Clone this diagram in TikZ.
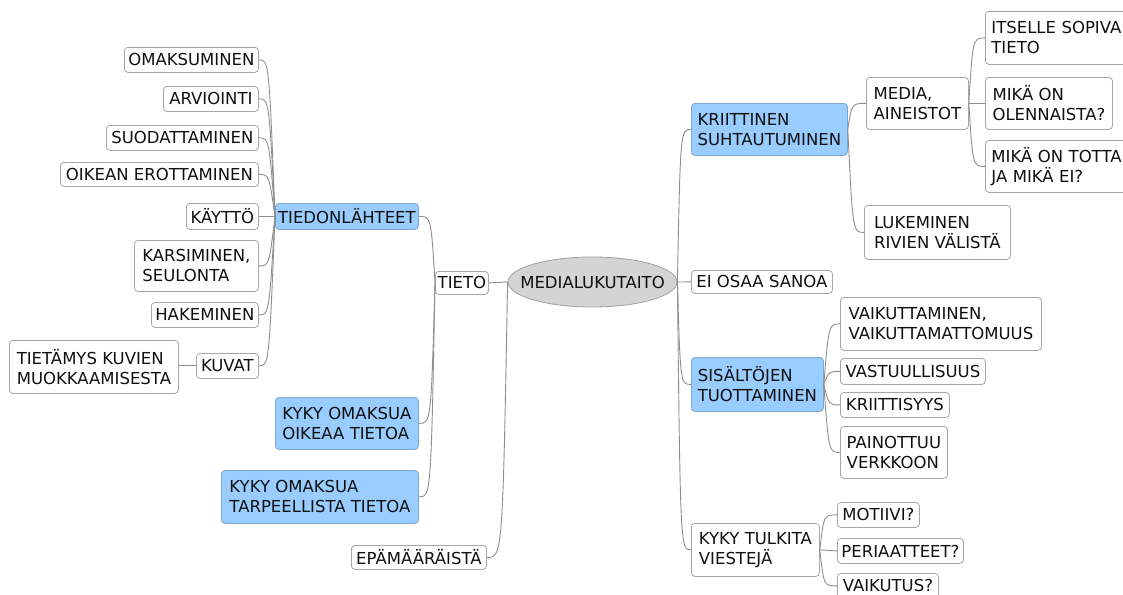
\documentclass[tikz,border=0pt]{standalone}
\usepackage{fontspec}
\setmainfont{DejaVu Sans}
\usetikzlibrary{shapes.geometric}
\definecolor{boxline}{HTML}{A6A6A6}
\definecolor{edgec}{HTML}{8E8E8E}
\definecolor{bluefill}{HTML}{99CCFF}
\definecolor{blueline}{HTML}{7FA6CC}
\definecolor{ellfill}{HTML}{D4D4D4}
\definecolor{ellline}{HTML}{A0A0A0}
\definecolor{txt}{HTML}{101010}
\tikzset{
  tbox/.style={draw=boxline, fill=white, rounded corners=3.5pt, line width=0.8pt,
    inner sep=0pt, align=left, text=txt, font={\fontsize{16.5}{20}\selectfont}},
  bbox/.style={tbox, fill=bluefill, draw=blueline},
  edge/.style={draw=edgec, line width=0.9pt},
}
\newcommand\bx[7]{\node[#1, anchor=north west, minimum width={(#5-#3)*1pt}, minimum height={(#6-#4)*1pt}] (#2) at (#3,#4) {#7};}
\newcommand\lnk[3]{\path (#1) ++(#3,0) coordinate (lnkA);
  \draw[edge] (#1) .. controls (lnkA |- #2) and (lnkA |- #2) .. (#2);}
\begin{document}
\begin{tikzpicture}[x=1pt,y=-1pt]
\useasboundingbox (0,0) rectangle (1123,594);
\clip (0,0) rectangle (1123,594);
\fill[white] (0,0) rectangle (1123,594);
% left side
\bx{tbox}{omak}{124}{47}{258}{72}{OMAKSUMINEN}
\bx{tbox}{arvi}{163}{86}{258}{111}{ARVIOINTI}
\bx{tbox}{suod}{106}{125}{258}{150}{SUODATTAMINEN}
\bx{tbox}{oike}{60}{162}{258}{186}{OIKEAN EROTTAMINEN}
\bx{tbox}{kayt}{186}{203}{258}{229}{KÄYTTÖ}
\bx{bbox}{tied}{275}{203}{418}{229}{TIEDONLÄHTEET}
\bx{tbox}{kars}{134}{240}{258}{291}{KARSIMINEN,\\SEULONTA}
\bx{tbox}{hake}{151}{302}{258}{327}{HAKEMINEN}
\bx{tbox}{tiet}{9}{340}{178}{393}{TIETÄMYS KUVIEN\\MUOKKAAMISESTA}
\bx{tbox}{kuva}{196}{353}{258}{378}{KUVAT}
\bx{bbox}{kyk1}{275}{397}{418}{449}{KYKY OMAKSUA\\OIKEAA TIETOA}
\bx{bbox}{kyk2}{221}{470}{418}{523}{KYKY OMAKSUA\\TARPEELLISTA TIETOA}
\bx{tbox}{epam}{351}{545}{486}{569}{EPÄMÄÄRÄISTÄ}
\bx{tbox}{tieto}{435}{271}{488}{294}{TIETO}
% centre
\node[ellipse, draw=ellline, fill=ellfill, line width=0.8pt, minimum width=169pt, minimum height=50pt,
  inner sep=0pt, label={[text=txt, font={\fontsize{16.5}{20}\selectfont}]center:MEDIALUKUTAITO}] (ell) at (592.5,282) {};
% right side
\bx{bbox}{krit}{691}{103}{847}{155}{KRIITTINEN\\SUHTAUTUMINEN}
\bx{tbox}{medi}{866}{77}{968}{129}{MEDIA,\\AINEISTOT}
\node[tbox, anchor=north west, minimum width=148pt, minimum height=53pt, text width=136pt, inner xsep=6pt] (itse) at (985,11) {ITSELLE SOPIVA\\TIETO};
\bx{tbox}{miko}{985}{77}{1112}{129}{MIKÄ ON\\OLENNAISTA?}
\node[tbox, anchor=north west, minimum width=148pt, minimum height=52pt, text width=136pt, inner xsep=6pt] (mikt) at (985,140) {MIKÄ ON TOTTA\\JA MIKÄ EI?};
\bx{tbox}{luke}{864}{205}{1010}{259}{LUKEMINEN\\RIVIEN VÄLISTÄ}
\bx{tbox}{eios}{691}{270}{832}{293}{EI OSAA SANOA}
\bx{tbox}{vaik}{840}{297}{1041}{350}{VAIKUTTAMINEN,\\VAIKUTTAMATTOMUUS}
\bx{bbox}{sisa}{691}{357}{823}{411}{SISÄLTÖJEN\\TUOTTAMINEN}
\bx{tbox}{vast}{840}{358}{985}{384}{VASTUULLISUUS}
\bx{tbox}{krii}{840}{392}{949}{417}{KRIITTISYYS}
\bx{tbox}{pain}{840}{426}{947}{478}{PAINOTTUU\\VERKKOON}
\bx{tbox}{kykt}{691}{523}{819}{576}{KYKY TULKITA\\VIESTEJÄ}
\bx{tbox}{moti}{837}{502}{919}{527}{MOTIIVI?}
\bx{tbox}{peri}{837}{538}{963}{563}{PERIAATTEET?}
\bx{tbox}{vaiu}{837}{573}{938}{598}{VAIKUTUS?}
% connectors: left
\lnk{tied.west}{omak.east}{-6}
\lnk{tied.west}{arvi.east}{-6}
\lnk{tied.west}{suod.east}{-6}
\lnk{tied.west}{oike.east}{-6}
\draw[edge] (tied.west) -- (kayt.east);
\lnk{tied.west}{kars.east}{-6}
\lnk{tied.west}{hake.east}{-6}
\lnk{tied.west}{kuva.east}{-6}
\draw[edge] (kuva.west) -- (tiet.east |- kuva.west);
\lnk{tieto.west}{tied.east}{-4}
\lnk{tieto.west}{kyk1.east}{-4}
\lnk{tieto.west}{kyk2.east}{-4}
\draw[edge] (ell.west) -- (tieto.east);
\lnk{ell.west}{epam.east}{-5}
% connectors: right
\lnk{ell.east}{krit.west}{3}
\draw[edge] (ell.east) -- (eios.west);
\lnk{ell.east}{sisa.west}{3}
\lnk{ell.east}{kykt.west}{3}
\lnk{krit.east}{medi.west}{4}
\lnk{krit.east}{luke.west}{5}
\lnk{medi.east}{itse.west}{4}
\draw[edge] (medi.east) -- (miko.west);
\lnk{medi.east}{mikt.west}{4}
\lnk{sisa.east}{vaik.west}{5}
\lnk{sisa.east}{vast.west}{5}
\lnk{sisa.east}{krii.west}{5}
\lnk{sisa.east}{pain.west}{5}
\lnk{kykt.east}{moti.west}{4}
\draw[edge] (kykt.east) -- (peri.west);
\lnk{kykt.east}{vaiu.west}{4}
\end{tikzpicture}
\end{document}
